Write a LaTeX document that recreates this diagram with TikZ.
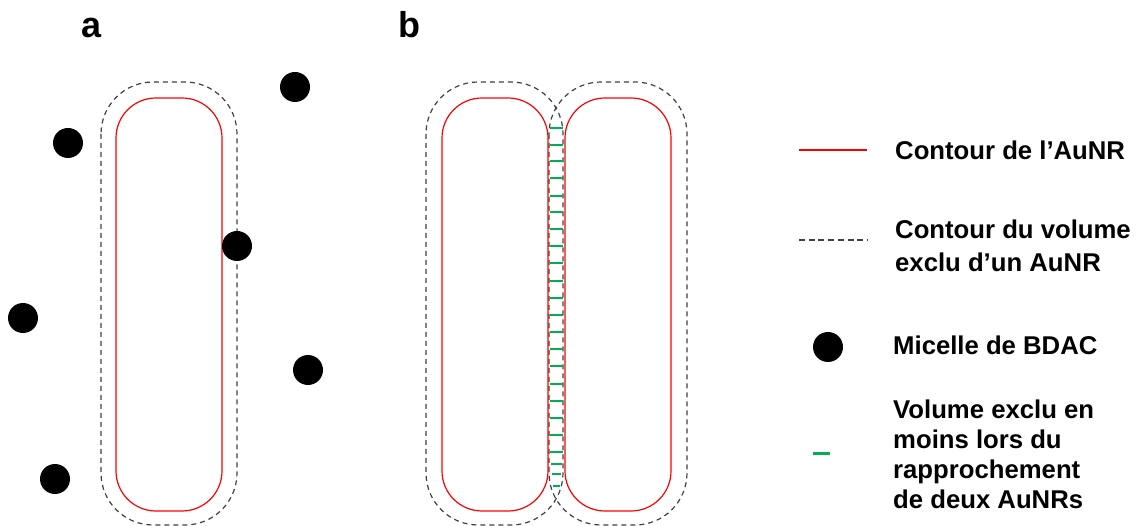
\documentclass[tikz,border=0pt]{standalone}
\usepackage{fontspec}
\setmainfont{Liberation Sans}
\usepackage{xcolor}
\definecolor{RodRed}{HTML}{FF0000}
\definecolor{ExclGray}{HTML}{404040}
\definecolor{GapGreen}{HTML}{00B050}
\usepackage{tikz}
\tikzset{
  rod/.style={draw=RodRed,line width=1.2pt,rounded corners=40pt},
  excl/.style={draw=ExclGray,line width=1.2pt,dash pattern=on 5pt off 4pt,
    rounded corners=52pt},
  micelle/.style={circle,fill=black,inner sep=0pt,minimum size=30pt},
  gap/.style={draw=GapGreen,line width=2.6pt},
  tag/.style={font=\bfseries\fontsize{36}{40}\selectfont,inner sep=0pt,anchor=base},
  lbl/.style={font=\bfseries\fontsize{25.7}{30}\selectfont,align=left,
    inner sep=0pt,anchor=base west},
}

\begin{document}
\begin{tikzpicture}[x=1pt,y=-1pt]
\useasboundingbox (0,0) rectangle (1138,526);

% panel a : one rod and the micelles around it
\node[tag] (taga) at (92,38) {a};
\draw[excl] (101,82) rectangle (237,525);
\draw[rod] (116,98) rectangle (222,511);
\foreach \x/\y [count=\i] in {68/143,295/87,237/246,23/318,308/370,55/479}
  \node[micelle] (mic\i) at (\x,\y) {};

% panel b : two rods side by side
\node[tag] (tagb) at (409,38) {b};
\draw[excl] (426,82) rectangle (563,525);
\draw[excl] (549,82) rectangle (687,525);
\draw[rod] (442,98) rectangle (548,511);
\draw[rod] (565,98) rectangle (671,511);
\foreach \y in {128,145,161,178,196,212,229,246,263,281,298,315,332,349,366,384,401,418,435,452}
  \draw[gap] (550,\y) -- (563,\y);
\foreach \y/\a/\b in {464/551/562,474/552/561,486/553/560}
  \draw[gap] (\a,\y) -- (\b,\y);

% legend (base anchor = last line)
\draw[draw=RodRed,line width=2pt] (799,150) -- (867,150);
\node[lbl] (lgrod) at (895,160) {Contour de l’AuNR};
\draw[draw=ExclGray,line width=1.6pt,dash pattern=on 6pt off 3.7pt] (799,240) -- (867,240);
\node[lbl] (lgexcl) at (895,272) {Contour du volume\\[3pt]exclu d’un AuNR};
\node[micelle] (lgmic) at (828,347) {};
\node[lbl] (lgmictxt) at (893,355) {Micelle de BDAC};
\draw[gap,line width=3pt] (813,453) -- (830,453);
\node[lbl] (lggap) at (893,508)
  {Volume exclu en\\moins lors du\\rapprochement\\de deux AuNRs};
\end{tikzpicture}
\end{document}
